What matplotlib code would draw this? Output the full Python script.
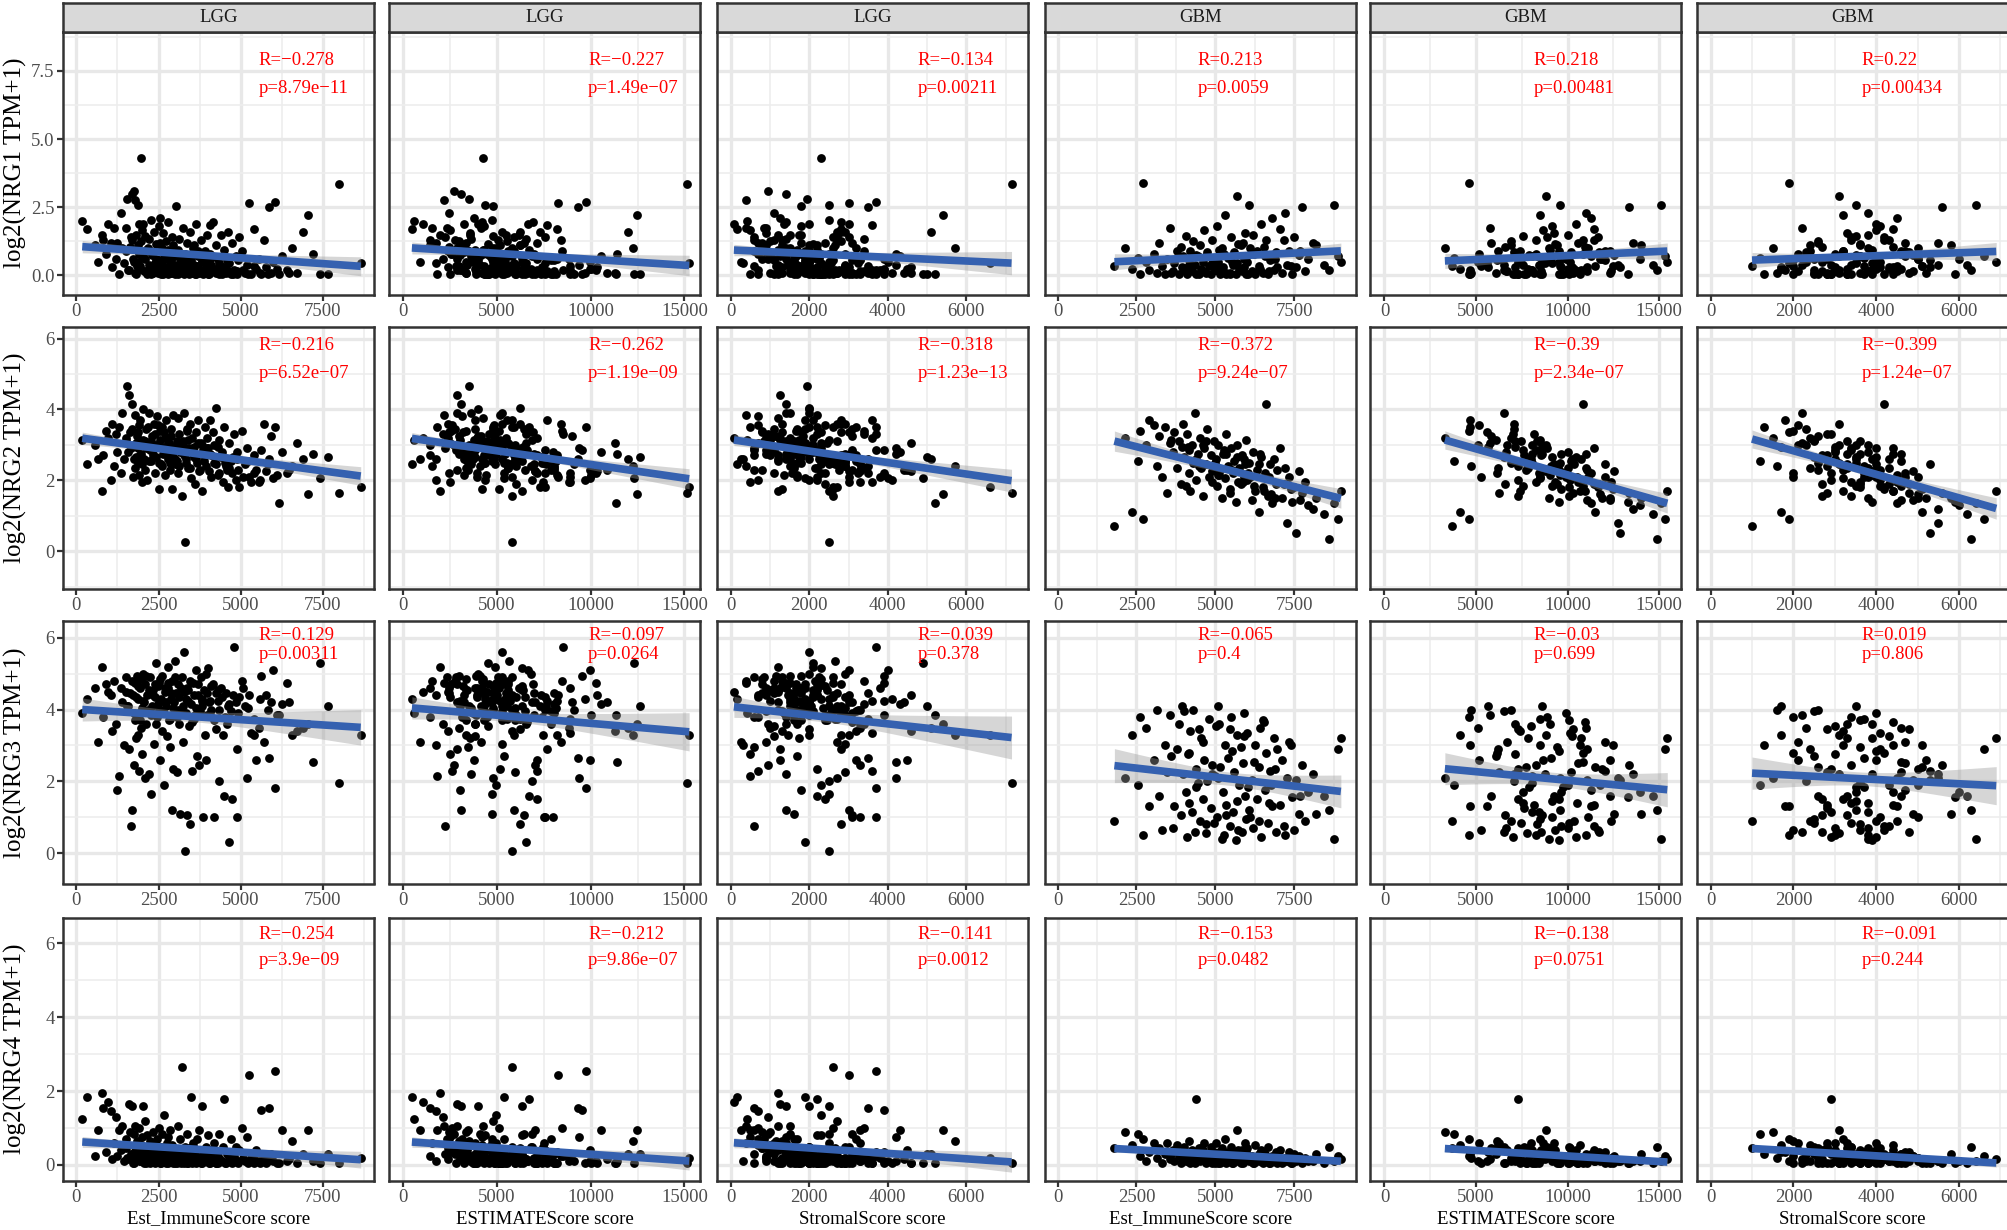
import numpy as np
import matplotlib
matplotlib.use('Agg')
from matplotlib import pyplot as plt
from matplotlib.ticker import MultipleLocator, FormatStrFormatter

plt.rcParams['font.family'] = ['Liberation Serif', 'DejaVu Serif']

# ---- LGG samples ----
lgg_immune = [
    180, 320, 560, 660, 780, 820, 900, 960, 1050, 1100,
    1150, 1200, 1250, 1300, 1350, 1400, 1450, 1500, 1550, 1600,
    1650, 1700, 1720, 1750, 1780, 1800, 1820, 1850, 1870, 1900,
    1920, 1950, 1960, 1980, 1990, 2000, 1630, 1880, 2020, 2050,
    2080, 2100, 2130, 2160, 2200, 2230, 2260, 2300, 2330, 2360,
    2400, 2430, 2460, 2500, 2520, 2550, 2580, 2600, 2620, 2650,
    2680, 2700, 2720, 2750, 2780, 2800, 2830, 2850, 2880, 2900,
    2920, 2950, 2970, 2990, 2240, 2470, 3020, 3050, 3080, 3100,
    3130, 3160, 3200, 3230, 3260, 3300, 3330, 3360, 3400, 3430,
    3460, 3500, 3530, 3560, 3600, 3640, 3680, 3700, 3740, 3780,
    3820, 3860, 3900, 3940, 3980, 3150, 3370, 3590, 3810, 3950,
    4020, 4060, 4100, 4150, 4200, 4250, 4300, 4350, 4400, 4450,
    4500, 4550, 4600, 4650, 4700, 4750, 4800, 4850, 4900, 4950,
    4080, 4320, 4580, 4880, 5050, 5120, 5200, 5250, 5320, 5400,
    5480, 5550, 5620, 5700, 5760, 5850, 5930, 5980, 6050, 6150,
    6250, 6400, 6550, 6700, 6900, 7050, 7200, 7650, 8000, 8650,
    1500, 1560, 1680, 1740, 1810, 1890, 1940, 2040, 2110, 2170,
    2210, 2280, 2340, 2380, 2420, 2480, 2540, 2590, 2640, 2690,
    2740, 2790, 2840, 2890, 2940, 3010, 3070, 3120, 3180, 3240,
    3290, 3350, 3410, 3470, 3520, 3580, 3630, 3690, 3760, 3830,
    3890, 3970, 4040, 4110, 4180, 4260, 4340, 4420, 4520, 4640,
    4780, 4920, 5080, 5230, 5390, 5580, 5820, 6100, 6480, 7400]
lgg_stromal = [
    420, 150, 900, 250, 1200, 600, 1650, 80, 700, 1300,
    400, 950, 1800, 500, 1100, 1500, 300, 850, 1950, 1250,
    600, 1400, 2200, 950, 1600, 400, 1750, 1150, 2500, 700,
    1350, 1900, 1000, 2300, 500, 1600, 800, 1450, 2000, 1200,
    2700, 800, 1700, 2200, 1400, 600, 2500, 1850, 1000, 2900,
    1550, 2100, 700, 1800, 2600, 1250, 2000, 3200, 1500, 900,
    2300, 1700, 2800, 1100, 2100, 1400, 2450, 600, 1900, 3000,
    1300, 2200, 1650, 2650, 1300, 2400, 1800, 2900, 1200, 2300,
    3400, 1600, 2600, 900, 2000, 2500, 1500, 3100, 2200, 1100,
    2800, 1900, 3600, 1400, 2400, 3000, 1700, 2100, 3300, 1300,
    2500, 3700, 2000, 2900, 1500, 2100, 1750, 2650, 1900, 3200,
    2300, 3600, 1700, 2800, 3300, 2000, 3900, 2500, 1800, 3000,
    2200, 3500, 2700, 1900, 3200, 2400, 3700, 2000, 3100, 2600,
    2900, 2100, 3300, 2800, 3400, 2500, 4200, 3000, 3600, 2800,
    4500, 3300, 3900, 2700, 4600, 3500, 3100, 4000, 3700, 5200,
    4300, 3900, 5700, 4600, 5100, 5400, 4200, 5000, 7150, 6600,
    900, 1500, 1100, 2000, 700, 1300, 2400, 1000, 1800, 2600,
    1200, 1600, 900, 2200, 1400, 1900, 800, 2300, 1700, 1250,
    2000, 1500, 2700, 1100, 1850, 2250, 1400, 2900, 1650, 2050,
    1200, 2550, 1750, 2150, 3100, 1450, 2350, 1900, 2750, 1600,
    2450, 2000, 3000, 2250, 1800, 2700, 3250, 2100, 2900, 3400,
    2600, 3100, 3800, 2900, 3500, 4100, 3300, 3900, 4400, 4900]
lgg_estimate = [
    600, 470, 1460, 910, 1980, 1420, 2550, 1040, 1750, 2400,
    1550, 2150, 3050, 1800, 2450, 2900, 1750, 2350, 3500, 2850,
    2250, 3100, 3920, 2700, 3380, 2200, 3570, 3000, 4370, 2600,
    3270, 3850, 2960, 4280, 2490, 3600, 2430, 3330, 4020, 3250,
    4780, 2900, 3830, 4360, 3600, 2830, 4760, 4150, 3330, 5260,
    3950, 4530, 3160, 4300, 5120, 3800, 4580, 5800, 4120, 3550,
    4980, 4400, 5520, 3850, 4880, 4200, 5280, 3450, 4780, 5900,
    4220, 5150, 4620, 5640, 3540, 4870, 4820, 5950, 4280, 5400,
    6530, 4760, 5800, 4130, 5260, 5800, 4830, 6460, 5600, 4530,
    6260, 5400, 7130, 4960, 6000, 6640, 5380, 5800, 7040, 5080,
    6320, 7560, 5900, 6840, 5480, 5250, 5120, 6240, 5710, 7150,
    6320, 7660, 5800, 6950, 7500, 6250, 8200, 6850, 6200, 7450,
    6700, 8050, 7300, 6550, 7900, 7150, 8500, 6850, 8000, 7550,
    6980, 6420, 7880, 7680, 8450, 7620, 9400, 8250, 8920, 8200,
    9980, 8850, 9520, 8400, 10360, 9350, 9030, 9980, 9750, 11350,
    10550, 10300, 12250, 11300, 12000, 12450, 11400, 12650, 15150, 15250,
    2400, 3060, 2780, 3740, 2510, 3190, 4340, 3040, 3910, 4770,
    3410, 3880, 3240, 4580, 3820, 4380, 3340, 4890, 4340, 3940,
    4740, 4290, 5540, 3990, 4790, 5260, 4470, 6020, 4830, 5290,
    4490, 5900, 5160, 5620, 6620, 5030, 5980, 5590, 6510, 5430,
    6340, 5970, 7040, 6360, 5980, 6960, 7590, 6520, 7420, 8040,
    7380, 8020, 8880, 8130, 8890, 9680, 9120, 10000, 10880, 12300]
lgg_nrg1 = [
    2.0, 1.7, 1.1, 0.5, 1.5, 1.3, 0.8, 1.9, 1.2, 0.3,
    1.75, 0.6, 1.2, 0.05, 2.3, 1.0, 0.45, 1.75, 2.8, 0.2,
    1.4, 3.0, 0.6, 3.1, 0.1, 2.75, 1.5, 0.35, 2.6, 0.8,
    1.9, 0.25, 1.25, 4.3, 1.65, 0.7, 1.05, 0.5, 1.9, 0.15,
    1.45, 0.6, 0.95, 0.05, 1.35, 0.35, 2.05, 0.75, 0.1, 1.6,
    0.45, 1.15, 0.2, 1.8, 0.55, 2.1, 0.05, 1.0, 0.4, 1.55,
    0.8, 0.15, 1.25, 0.6, 0.05, 1.95, 0.3, 0.9, 0.5, 1.4,
    0.1, 1.1, 0.7, 0.2, 0.9, 0.25, 2.55, 0.4, 0.95, 0.05,
    1.35, 0.6, 0.15, 1.75, 0.45, 0.8, 0.1, 1.2, 0.3, 0.05,
    1.6, 0.55, 0.2, 1.0, 0.05, 1.9, 0.35, 0.7, 0.1, 1.3,
    0.5, 0.05, 0.9, 0.25, 1.5, 0.7, 0.35, 1.1, 0.15, 0.6,
    0.05, 1.85, 0.4, 1.95, 0.15, 1.1, 0.6, 0.05, 1.5, 0.3,
    0.95, 0.1, 1.6, 0.45, 0.05, 1.2, 0.2, 0.7, 0.05, 1.4,
    0.8, 0.25, 0.55, 0.15, 0.9, 0.1, 0.4, 2.65, 0.05, 1.7,
    0.25, 0.6, 0.05, 1.3, 0.3, 2.5, 0.1, 0.5, 2.7, 0.05,
    0.7, 0.2, 1.0, 0.1, 1.6, 2.2, 0.8, 0.05, 3.35, 0.45,
    0.9, 0.2, 1.3, 0.5, 0.05, 1.1, 0.35, 0.75, 0.15, 1.0,
    0.4, 0.05, 0.85, 0.25, 0.6, 0.1, 1.2, 0.45, 0.05, 0.7,
    0.3, 0.95, 0.1, 0.55, 0.2, 0.05, 0.8, 0.35, 0.15, 0.6,
    0.05, 0.45, 0.25, 0.7, 0.1, 0.4, 0.05, 0.9, 0.2, 0.5,
    0.1, 0.35, 0.05, 0.65, 0.25, 0.1, 0.45, 0.05, 0.3, 0.15,
    0.05, 0.55, 0.2, 0.05, 0.35, 0.1, 0.05, 0.25, 0.1, 0.05]
lgg_nrg2 = [
    3.15, 2.45, 3.0, 2.6, 1.7, 2.7, 3.4, 3.2, 2.0, 3.6,
    2.4, 3.3, 2.8, 3.5, 2.2, 3.9, 2.6, 3.1, 4.65, 4.4,
    2.9, 4.15, 2.1, 3.0, 2.35, 3.85, 2.65, 3.25, 2.5, 3.55,
    2.15, 3.7, 2.75, 3.05, 1.95, 2.45, 3.35, 2.9, 4.0, 2.6,
    3.1, 2.3, 3.45, 2.0, 3.9, 2.85, 2.55, 3.25, 2.7, 3.6,
    2.2, 3.0, 3.8, 2.5, 1.75, 3.15, 2.95, 3.5, 2.4, 2.75,
    3.35, 2.15, 3.7, 2.85, 3.2, 2.6, 3.05, 2.3, 3.45, 2.7,
    1.75, 3.85, 2.95, 2.45, 3.0, 3.55, 3.0, 2.55, 3.75, 2.2,
    3.3, 2.8, 1.55, 3.1, 3.9, 0.25, 2.6, 3.45, 2.35, 2.9,
    3.6, 2.05, 3.2, 2.75, 1.9, 3.35, 2.5, 3.7, 2.25, 3.05,
    1.7, 2.85, 3.5, 2.4, 3.2, 2.95, 3.4, 2.65, 3.0, 2.7,
    2.9, 3.7, 2.1, 3.35, 2.5, 4.05, 2.15, 3.15, 2.65, 1.95,
    3.5, 2.4, 1.8, 3.05, 2.55, 2.2, 3.3, 2.0, 2.8, 1.8,
    2.75, 2.95, 2.3, 2.6, 3.4, 2.45, 2.9, 2.1, 1.95, 2.7,
    2.3, 1.95, 2.85, 3.6, 2.25, 2.6, 3.25, 2.05, 3.5, 1.35,
    2.8, 2.2, 2.4, 3.05, 2.6, 1.6, 2.75, 2.65, 1.65, 1.8,
    3.2, 2.8, 3.45, 2.6, 3.05, 3.35, 2.7, 3.15, 2.9, 3.5,
    2.55, 3.1, 2.85, 3.3, 2.65, 3.0, 3.4, 2.45, 2.95, 3.2,
    2.75, 3.05, 2.5, 3.25, 2.8, 2.6, 3.1, 2.4, 2.9, 3.0,
    2.7, 2.5, 3.15, 2.35, 2.85, 2.95, 2.6, 3.05, 2.3, 2.75,
    2.55, 2.9, 2.25, 2.7, 3.0, 2.45, 2.2, 2.8, 2.5, 2.35,
    2.65, 2.3, 2.1, 2.55, 2.2, 2.0, 2.45, 2.15, 2.3, 2.05]
lgg_nrg3 = [
    3.9, 4.3, 4.6, 3.1, 5.2, 3.8, 4.7, 4.5, 4.4, 3.4,
    4.8, 3.6, 1.75, 2.15, 4.6, 4.2, 3.0, 4.9, 4.1, 2.9,
    0.75, 1.2, 4.4, 2.45, 3.7, 4.75, 3.2, 4.95, 4.3, 2.3,
    3.9, 4.6, 3.5, 4.85, 2.75, 4.05, 4.45, 3.3, 5.0, 4.2,
    2.1, 4.7, 3.6, 4.4, 2.2, 4.9, 1.65, 4.1, 4.55, 3.05,
    4.35, 5.3, 3.8, 4.0, 4.75, 2.6, 4.25, 3.4, 4.95, 3.95,
    1.9, 4.5, 4.1, 3.25, 5.2, 4.6, 3.7, 2.95, 4.3, 1.2,
    4.8, 2.35, 4.2, 5.35, 3.95, 4.65, 4.45, 2.25, 4.0, 4.7,
    3.6, 1.1, 4.9, 3.1, 5.6, 0.05, 4.3, 1.05, 4.55, 3.55,
    0.8, 4.15, 2.3, 4.75, 3.85, 5.1, 2.7, 4.4, 2.45, 4.9,
    4.1, 1.0, 3.3, 5.0, 4.45, 3.95, 4.6, 3.75, 4.25, 2.6,
    5.15, 4.25, 4.0, 4.7, 1.0, 3.45, 4.25, 2.0, 4.6, 3.3,
    1.6, 4.45, 4.1, 0.3, 3.95, 1.5, 5.75, 4.2, 1.0, 4.35,
    3.85, 4.55, 3.6, 2.9, 4.8, 4.1, 2.1, 4.4, 3.35, 3.3,
    2.6, 3.5, 4.95, 3.1, 4.4, 2.65, 4.2, 5.1, 1.8, 3.85,
    4.15, 4.75, 3.3, 3.4, 3.5, 3.6, 2.55, 4.1, 1.95, 3.3,
    4.5, 4.1, 4.8, 3.9, 4.35, 4.65, 3.7, 4.25, 4.95, 4.0,
    4.55, 3.85, 4.4, 4.7, 3.6, 4.15, 4.85, 4.3, 3.95, 4.6,
    4.2, 4.75, 3.75, 4.45, 4.05, 4.9, 3.8, 4.35, 4.6, 4.1,
    4.5, 3.9, 4.25, 4.8, 3.65, 4.4, 4.05, 4.7, 3.95, 4.3,
    4.55, 3.85, 4.2, 4.65, 3.7, 4.45, 4.0, 4.35, 3.8, 4.15,
    4.4, 3.9, 4.6, 4.05, 3.75, 4.3, 4.0, 3.85, 4.2, 5.3]
lgg_nrg4 = [
    1.25, 1.85, 0.25, 0.95, 1.95, 1.55, 0.35, 1.7, 1.45, 0.15,
    0.6, 1.3, 0.25, 0.95, 0.4, 1.05, 0.1, 0.7, 0.2, 1.65,
    0.3, 1.6, 0.05, 0.85, 0.5, 1.05, 0.2, 0.65, 0.15, 1.0,
    0.4, 0.1, 0.55, 0.3, 0.75, 0.2, 0.9, 0.35, 1.6, 0.05,
    1.2, 0.45, 0.15, 0.8, 0.25, 0.05, 0.6, 0.35, 0.9, 0.1,
    0.45, 0.15, 0.7, 0.3, 1.0, 0.05, 0.5, 0.2, 0.85, 0.1,
    1.35, 0.4, 0.05, 0.6, 0.25, 0.75, 0.1, 0.95, 0.3, 0.15,
    0.55, 0.05, 0.45, 0.2, 0.65, 0.1, 0.4, 0.05, 1.05, 0.3,
    0.15, 0.7, 2.65, 0.2, 0.05, 0.5, 0.25, 0.85, 0.1, 0.45,
    0.15, 1.85, 0.05, 0.6, 0.3, 0.1, 0.7, 0.2, 0.95, 0.05,
    1.6, 0.35, 0.1, 0.5, 0.2, 0.35, 0.05, 0.45, 0.15, 0.25,
    0.8, 0.05, 0.4, 0.15, 0.6, 0.05, 0.35, 0.85, 0.1, 0.5,
    1.8, 0.05, 0.35, 0.15, 0.7, 0.05, 0.25, 0.5, 0.1, 0.4,
    0.2, 0.05, 0.3, 0.1, 1.0, 0.1, 0.75, 2.45, 0.2, 0.05,
    0.4, 0.1, 1.5, 0.25, 0.05, 1.55, 0.3, 0.1, 2.55, 0.05,
    0.95, 0.1, 0.65, 0.05, 0.3, 0.95, 0.1, 0.3, 0.05, 0.2,
    0.45, 0.15, 0.3, 0.05, 0.55, 0.2, 0.1, 0.35, 0.05, 0.25,
    0.4, 0.1, 0.2, 0.05, 0.3, 0.15, 0.45, 0.05, 0.25, 0.1,
    0.35, 0.05, 0.2, 0.1, 0.3, 0.05, 0.15, 0.4, 0.05, 0.2,
    0.1, 0.3, 0.05, 0.25, 0.1, 0.35, 0.05, 0.2, 0.15, 0.05,
    0.3, 0.1, 0.05, 0.25, 0.15, 0.05, 0.2, 0.1, 0.05, 0.3,
    0.1, 0.05, 0.2, 0.05, 0.15, 0.05, 0.1, 0.05, 0.15, 0.05]

# ---- GBM samples ----
gbm_immune = [
    1800, 2150, 2350, 2550, 2600, 2700, 2800, 2900, 3050, 3150,
    3200, 3300, 3400, 3480, 3550, 3650, 3700, 3780, 3850, 3900,
    3950, 3980, 4020, 4060, 4100, 4150, 4200, 4250, 4300, 4350,
    4400, 4450, 4500, 4550, 4600, 4650, 4700, 4750, 4800, 4850,
    4900, 4950, 4120, 4380, 4620, 4880, 5020, 5060, 5100, 5150,
    5200, 5250, 5300, 5350, 5400, 5450, 5500, 5550, 5600, 5650,
    5700, 5750, 5800, 5850, 5900, 5950, 5080, 5280, 5480, 5680,
    5880, 5980, 6020, 6080, 6150, 6200, 6260, 6320, 6380, 6450,
    6500, 6560, 6620, 6680, 6740, 6800, 6860, 6920, 6960, 6100,
    6420, 6780, 7050, 7120, 7200, 7280, 7350, 7420, 7480, 7550,
    7650, 7750, 7850, 7950, 8200, 8450, 8600, 8750, 8900, 8980,
    3600, 4180, 4470, 4720, 4980, 5120, 5330, 5520, 5720, 5920,
    6050, 6230, 6370, 6540, 6710, 6890, 7170, 7390, 7700, 8100]
gbm_stromal = [
    1000, 1500, 1700, 1200, 2000, 1900, 2300, 1800, 2100, 1600,
    2600, 2000, 1300, 2800, 2200, 3000, 1900, 2400, 3300, 2700,
    1700, 3100, 2500, 3500, 2900, 2000, 3200, 3800, 2600, 2200,
    2900, 3600, 2400, 3300, 2700, 4000, 3100, 2300, 3700, 2800,
    3400, 2500, 3000, 3500, 2100, 3900, 3000, 4100, 3500, 2600,
    3800, 4400, 3200, 2800, 3700, 4200, 3400, 2900, 4600, 3900,
    3100, 4300, 3600, 2700, 4000, 3300, 4500, 3000, 4800, 3500,
    4700, 2500, 4100, 3500, 4900, 3800, 4400, 3200, 5100, 4000,
    3600, 4700, 4200, 3400, 5300, 4500, 3900, 4800, 4100, 5000,
    4600, 5000, 4400, 5200, 3800, 5500, 4700, 5900, 4200, 5300,
    4900, 5600, 4500, 6000, 5800, 6200, 6300, 6400, 6600, 6900,
    2500, 3400, 2800, 3600, 3100, 3900, 3300, 4000, 3600, 4300,
    3700, 4600, 4000, 4400, 3800, 5000, 4300, 5100, 4600, 5500]
gbm_estimate = [
    3700, 3300, 4100, 3800, 4600, 4600, 5100, 4700, 5150, 4750,
    5800, 5300, 4700, 6280, 5750, 6650, 5600, 6180, 7150, 6600,
    5650, 7080, 6520, 7560, 7000, 6150, 7400, 8050, 6900, 6550,
    7300, 8050, 6900, 7850, 7300, 8650, 7800, 7050, 8500, 7650,
    8300, 7450, 7120, 7880, 6720, 8780, 8020, 9160, 8600, 7750,
    9000, 9650, 8500, 8150, 9100, 9650, 8900, 8450, 10200, 9550,
    8800, 10050, 9400, 8550, 9900, 9250, 9580, 8280, 10280, 9180,
    10580, 8480, 10120, 9580, 11050, 10000, 10660, 9520, 11480, 10450,
    10100, 11260, 10820, 10080, 12040, 11300, 10760, 11720, 11060, 11100,
    11020, 11780, 11450, 12320, 11000, 12780, 12050, 13320, 11680, 12850,
    12550, 13350, 12350, 13950, 14000, 14650, 14900, 15100, 15300, 15450,
    6100, 7580, 7270, 8320, 8080, 9020, 8630, 9520, 9320, 10220,
    9750, 10830, 10370, 10940, 10510, 11890, 11470, 12490, 12300, 13600]
gbm_nrg1 = [
    0.35, 1.0, 0.25, 0.65, 0.05, 3.4, 0.5, 0.2, 0.8, 0.1,
    1.2, 0.35, 0.05, 0.6, 1.75, 0.15, 0.45, 0.9, 0.05, 1.05,
    0.3, 0.7, 0.2, 1.45, 0.05, 0.55, 0.9, 0.15, 1.25, 0.4,
    0.05, 0.7, 1.1, 0.25, 0.5, 1.65, 0.1, 0.85, 0.35, 0.05,
    1.3, 0.6, 0.3, 0.75, 0.15, 0.45, 0.2, 1.8, 0.5, 0.05,
    1.0, 0.3, 2.2, 0.1, 0.65, 0.05, 1.4, 0.4, 0.85, 0.05,
    2.9, 0.25, 1.1, 0.15, 0.6, 1.55, 0.35, 0.8, 0.1, 0.45,
    1.2, 0.05, 0.5, 2.6, 0.15, 1.5, 0.05, 0.9, 0.35, 1.9,
    0.1, 0.7, 1.3, 0.05, 0.55, 2.1, 0.2, 0.85, 0.3, 1.0,
    0.25, 0.6, 1.7, 0.1, 2.3, 0.4, 0.9, 0.05, 1.4, 0.3,
    0.75, 2.5, 0.15, 0.6, 1.1, 0.4, 0.2, 2.6, 0.7, 0.5,
    0.1, 0.4, 0.05, 0.7, 0.2, 0.95, 0.05, 0.5, 1.15, 0.3,
    0.05, 0.8, 0.25, 1.05, 0.15, 0.6, 1.3, 0.35, 0.9, 1.2]
gbm_nrg2 = [
    0.7, 3.2, 1.1, 2.55, 3.4, 0.9, 3.0, 3.7, 3.55, 2.4,
    3.25, 2.1, 3.5, 1.65, 3.05, 2.8, 3.35, 2.35, 3.1, 1.9,
    2.95, 3.6, 2.65, 1.85, 3.3, 2.2, 1.7, 3.0, 2.5, 3.9,
    2.0, 2.75, 3.2, 2.35, 1.55, 2.9, 2.45, 3.45, 2.1, 2.7,
    1.95, 3.1, 2.95, 2.6, 3.0, 2.25, 2.6, 1.85, 3.0, 2.3,
    1.5, 2.75, 2.05, 3.3, 2.4, 1.75, 2.9, 2.2, 2.55, 1.4,
    3.0, 2.35, 1.9, 2.7, 2.1, 2.45, 2.15, 2.85, 1.65, 2.65,
    1.95, 3.15, 2.0, 2.5, 1.45, 2.8, 1.7, 2.3, 1.1, 2.65,
    1.8, 2.2, 4.15, 1.55, 2.45, 1.35, 2.6, 1.9, 2.3, 2.1,
    2.75, 1.6, 2.9, 1.5, 2.35, 0.8, 2.1, 1.4, 1.8, 0.5,
    2.25, 1.65, 1.95, 1.3, 1.5, 1.05, 0.35, 1.35, 0.9, 1.7,
    3.15, 2.85, 2.4, 3.1, 2.5, 2.15, 2.75, 2.3, 1.95, 2.6,
    2.2, 1.85, 2.45, 1.7, 2.1, 1.5, 1.9, 1.75, 1.45, 1.2]
gbm_nrg3 = [
    0.9, 2.1, 3.3, 1.9, 3.8, 0.5, 3.5, 1.3, 2.6, 4.0,
    1.6, 0.65, 3.0, 2.25, 3.85, 0.7, 1.3, 2.9, 3.6, 1.05,
    4.1, 2.2, 3.95, 1.7, 0.45, 2.8, 3.4, 1.15, 4.0, 0.6,
    2.35, 1.95, 0.9, 3.2, 1.5, 2.6, 0.55, 2.0, 3.75, 1.25,
    2.45, 0.85, 2.75, 1.85, 3.1, 2.2, 3.55, 1.0, 4.1, 2.4,
    0.4, 1.7, 3.0, 1.35, 2.65, 0.75, 3.8, 1.15, 2.25, 0.35,
    3.3, 1.9, 2.95, 0.6, 3.9, 1.6, 2.1, 0.5, 3.45, 1.45,
    2.5, 0.95, 3.35, 1.2, 2.05, 0.7, 3.0, 1.5, 2.4, 0.45,
    3.7, 1.75, 2.8, 0.85, 2.3, 1.3, 3.2, 0.6, 2.9, 1.0,
    3.5, 1.9, 1.35, 2.6, 0.5, 2.1, 3.1, 1.55, 0.65, 2.05,
    1.1, 2.45, 0.9, 1.7, 1.1, 1.6, 1.2, 0.4, 2.9, 3.2,
    2.7, 1.4, 3.45, 0.8, 2.15, 3.6, 1.05, 2.85, 0.65, 3.25,
    1.85, 2.55, 0.9, 3.65, 1.4, 2.35, 0.75, 3.0, 1.6, 2.2]
gbm_nrg4 = [
    0.45, 0.9, 0.55, 0.85, 0.25, 0.7, 0.1, 0.35, 0.6, 0.2,
    0.45, 0.05, 0.3, 0.6, 0.15, 0.4, 0.1, 0.55, 0.25, 0.05,
    0.35, 0.15, 0.5, 0.1, 0.3, 0.65, 0.05, 0.4, 0.2, 0.05,
    1.8, 0.3, 0.1, 0.45, 0.15, 0.6, 0.05, 0.3, 0.2, 0.5,
    0.05, 0.35, 0.1, 0.25, 0.4, 0.15, 0.6, 0.1, 0.3, 0.05,
    0.45, 0.2, 0.7, 0.05, 0.35, 0.15, 0.5, 0.05, 0.3, 0.1,
    0.95, 0.25, 0.05, 0.4, 0.15, 0.6, 0.05, 0.3, 0.1, 0.2,
    0.05, 0.35, 0.45, 0.1, 0.25, 0.05, 0.55, 0.2, 0.1, 0.4,
    0.05, 0.3, 0.15, 0.5, 0.05, 0.25, 0.1, 0.35, 0.05, 0.2,
    0.3, 0.1, 0.4, 0.05, 0.2, 0.1, 0.35, 0.05, 0.3, 0.1,
    0.25, 0.05, 0.2, 0.1, 0.3, 0.05, 0.5, 0.1, 0.25, 0.15,
    0.3, 0.1, 0.45, 0.2, 0.05, 0.35, 0.15, 0.05, 0.4, 0.1,
    0.25, 0.05, 0.3, 0.1, 0.05, 0.2, 0.1, 0.05, 0.15, 0.1]

genes = ['NRG1', 'NRG2', 'NRG3', 'NRG4']
col_cohorts = ['LGG', 'LGG', 'LGG', 'GBM', 'GBM', 'GBM']
col_scores = ['Est_ImmuneScore score', 'ESTIMATEScore score', 'StromalScore score'] * 2

r_labels = [
    ['R=\u22120.278', 'R=\u22120.227', 'R=\u22120.134', 'R=0.213', 'R=0.218', 'R=0.22'],
    ['R=\u22120.216', 'R=\u22120.262', 'R=\u22120.318', 'R=\u22120.372', 'R=\u22120.39', 'R=\u22120.399'],
    ['R=\u22120.129', 'R=\u22120.097', 'R=\u22120.039', 'R=\u22120.065', 'R=\u22120.03', 'R=0.019'],
    ['R=\u22120.254', 'R=\u22120.212', 'R=\u22120.141', 'R=\u22120.153', 'R=\u22120.138', 'R=\u22120.091'],
]
p_labels = [
    ['p=8.79e\u221211', 'p=1.49e\u221207', 'p=0.00211', 'p=0.0059', 'p=0.00481', 'p=0.00434'],
    ['p=6.52e\u221207', 'p=1.19e\u221209', 'p=1.23e\u221213', 'p=9.24e\u221207', 'p=2.34e\u221207', 'p=1.24e\u221207'],
    ['p=0.00311', 'p=0.0264', 'p=0.378', 'p=0.4', 'p=0.699', 'p=0.806'],
    ['p=3.9e\u221209', 'p=9.86e\u221207', 'p=0.0012', 'p=0.0482', 'p=0.0751', 'p=0.244'],
]

col_x = [lgg_immune, lgg_estimate, lgg_stromal, gbm_immune, gbm_estimate, gbm_stromal]
lgg_genes = [lgg_nrg1, lgg_nrg2, lgg_nrg3, lgg_nrg4]
gbm_genes = [gbm_nrg1, gbm_nrg2, gbm_nrg3, gbm_nrg4]


def smooth_lm(x, y):
    # straight line fit with 95% band, like geom_smooth(method = "lm")
    x = np.asarray(x, float)
    y = np.asarray(y, float)
    slope, icpt = np.polyfit(x, y, 1)
    n = len(x)
    resid = y - (icpt + slope * x)
    s = np.sqrt(np.sum(resid ** 2) / (n - 2))
    sxx = np.sum((x - x.mean()) ** 2)
    xs = np.linspace(x.min(), x.max(), 80)
    fit = icpt + slope * xs
    se = s * np.sqrt(1 / n + (xs - x.mean()) ** 2 / sxx)
    return xs, fit, fit - 1.97 * se, fit + 1.97 * se


W, H = 2008, 1230
fig = plt.figure(figsize=(W / 100, H / 100), dpi=100)

col_left = [63, 389, 717, 1045, 1370, 1697]
col_w = 311
row_top = [32, 326.5, 621, 918]
row_h = 262.5

xlims = [(-405, 9054), (-750, 15830), (-350, 7570), (-400, 9460), (-790, 16200), (-330, 7185)]
xsteps = [(2500, 1250), (5000, 2500), (2000, 1000)] * 2
ylims = [(-0.7, 8.93), (-1.07, 6.34), (-0.85, 6.47), (-0.42, 6.69)]
ysteps = [(2.5, 1.25), (2, 1), (2, 1), (2, 1)]
ann_x = [0.63, 0.64, 0.646, 0.49, 0.527, 0.529]
ann_ry = [0.893, 0.927, 0.946, 0.937]
ann_py = [0.786, 0.82, 0.873, 0.839]

edge = '#333333'


def px_axes(left, top, w, h):
    return fig.add_axes([left / W, 1 - (top + h) / H, w / W, h / H])


for r in range(4):
    for c in range(6):
        ax = px_axes(col_left[c], row_top[r], col_w, row_h)
        x = col_x[c]
        y = lgg_genes[r] if c < 3 else gbm_genes[r]

        ax.scatter(x, y, s=40, color='black', linewidths=0, zorder=3)
        xs, fit, lo, hi = smooth_lm(x, y)
        ax.fill_between(xs, lo, hi, color='#999999', alpha=0.4, linewidth=0, zorder=4)
        ax.plot(xs, fit, color='#3561B0', lw=5.5, zorder=5, solid_capstyle='butt')

        ax.set_xlim(*xlims[c])
        ax.set_ylim(*ylims[r])
        ax.xaxis.set_major_locator(MultipleLocator(xsteps[c][0]))
        ax.xaxis.set_minor_locator(MultipleLocator(xsteps[c][1]))
        ax.xaxis.set_major_formatter(FormatStrFormatter('%d'))
        ax.yaxis.set_major_locator(MultipleLocator(ysteps[r][0]))
        ax.yaxis.set_minor_locator(MultipleLocator(ysteps[r][1]))
        ax.yaxis.set_major_formatter(FormatStrFormatter('%.1f' if r == 0 else '%d'))

        ax.set_axisbelow(True)
        ax.grid(which='major', color='#E8E8E8', lw=2.4)
        ax.grid(which='minor', color='#EDEDED', lw=1.2)
        for sp in ax.spines.values():
            sp.set_color(edge)
            sp.set_linewidth(1.8)
        ax.tick_params(which='major', direction='out', length=4, width=1.6, color=edge,
                       labelsize=13.5, labelcolor='#4D4D4D', pad=2)
        ax.tick_params(which='minor', length=0)
        if c > 0:
            ax.tick_params(axis='y', which='both', left=False, labelleft=False)

        ax.text(ann_x[c], ann_ry[r], r_labels[r][c], transform=ax.transAxes,
                color='red', fontsize=13.5, ha='left', va='center', zorder=6)
        ax.text(ann_x[c], ann_py[r], p_labels[r][c], transform=ax.transAxes,
                color='red', fontsize=13.5, ha='left', va='center', zorder=6)

# facet strips
for c in range(6):
    sax = px_axes(col_left[c], 3, col_w, 29)
    sax.set_facecolor('#D9D9D9')
    sax.set_xticks([])
    sax.set_yticks([])
    for sp in sax.spines.values():
        sp.set_color(edge)
        sp.set_linewidth(1.8)
    sax.text(0.5, 0.5, col_cohorts[c], transform=sax.transAxes, ha='center', va='center',
             fontsize=13.5, color='#1A1A1A')

# axis titles
for r in range(4):
    fig.text(15 / W, 1 - (row_top[r] + row_h / 2) / H, 'log2(%s TPM+1)' % genes[r],
             rotation=90, ha='center', va='center', fontsize=18)
for c in range(6):
    fig.text((col_left[c] + col_w / 2) / W, 1 - 1219 / H, col_scores[c],
             ha='center', va='center', fontsize=13.5)

fig.savefig('out.png', dpi=100, facecolor='white')
